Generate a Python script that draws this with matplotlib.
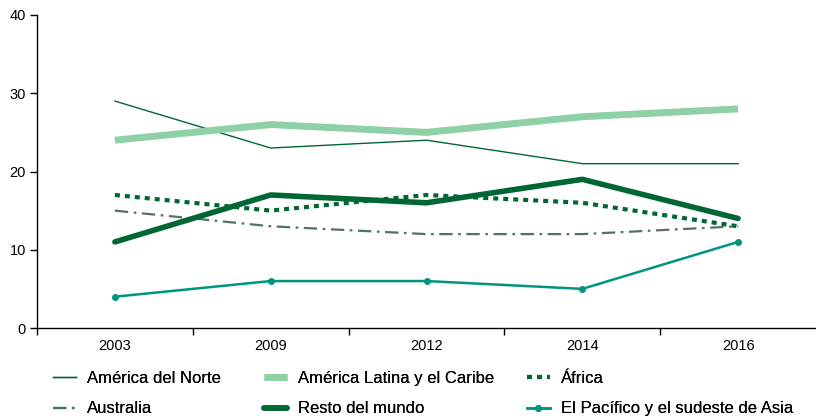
import matplotlib
matplotlib.use("Agg")
import matplotlib.pyplot as plt

plt.rcParams['font.family'] = ['Liberation Sans', 'DejaVu Sans']

years = ['2003', '2009', '2012', '2014', '2016']
norte = [29, 23, 24, 21, 21]
latina = [24, 26, 25, 27, 28]
africa = [17, 15, 17, 16, 13]
australia = [15, 13, 12, 12, 13]
resto = [11, 17, 16, 19, 14]
pacifico = [4, 6, 6, 5, 11]

dark = '#006633'
x = list(range(len(years)))

fig = plt.figure(figsize=(8.16, 4.16), dpi=100)
ax = fig.add_axes([37/816, 1-328/416, 1-37/816, (328-15)/416])

l_norte, = ax.plot(x, norte, color=dark, lw=1.0, label='América del Norte')
l_latina, = ax.plot(x, latina, color='#8fd1a6', lw=5, solid_capstyle='butt', label='América Latina y el Caribe')
l_africa, = ax.plot(x, africa, color=dark, lw=3, ls=(0, (1.2, 1.2)), label='África')
l_austr, = ax.plot(x, australia, color='#4f7366', lw=1.6, ls=(0, (6, 2.5, 1.2, 2.5)), label='Australia')
l_resto, = ax.plot(x, resto, color=dark, lw=4, solid_capstyle='round', label='Resto del mundo')
l_pac, = ax.plot(x, pacifico, color='#00957d', lw=1.8, marker='o', ms=4, label='El Pacífico y el sudeste de Asia')

ax.set_ylim(0, 40)
ax.set_yticks([0, 10, 20, 30, 40])
ax.set_xlim(-0.5, 4.5)
ax.set_xticks([i - 0.5 for i in range(5)])
ax.set_xticklabels([])
ax.set_xticks(x, minor=True)
ax.set_xticklabels(years, minor=True)
ax.tick_params(axis='x', which='minor', length=0, pad=8, labelsize=10.5)
ax.tick_params(axis='x', which='major', length=5, width=1.0, direction='out')
ax.tick_params(axis='y', length=5, width=1.0, labelsize=10.5, pad=3)
ax.spines['top'].set_visible(False)
ax.spines['right'].set_visible(False)
ax.spines['left'].set_linewidth(1.0)
ax.spines['bottom'].set_linewidth(1.0)

# legend: three columns placed separately
columns = [([l_norte, l_austr], 53), ([l_latina, l_resto], 264), ([l_africa, l_pac], 527)]
for hs, x0 in columns:
    lg = fig.legend(handles=hs, labels=[h.get_label() for h in hs],
                    loc='upper left', bbox_to_anchor=(x0/816, 1-371/416),
                    frameon=False, fontsize=12, borderpad=0, borderaxespad=0,
                    handlelength=1.35, handletextpad=0.7, labelspacing=0.92)
    fig.add_artist(lg)

fig.savefig('out.png', dpi=100)
